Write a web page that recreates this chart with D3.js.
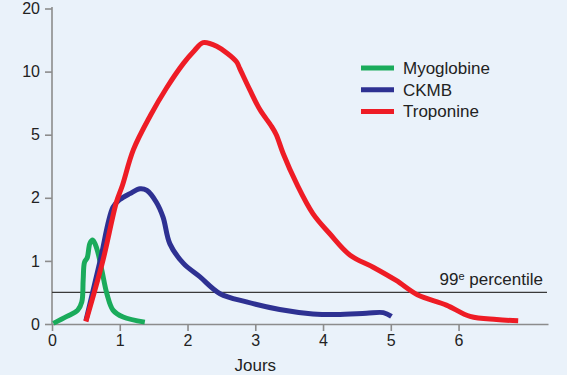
<!DOCTYPE html>
<html>
<head>
<meta charset="utf-8">
<script src="https://cdn.jsdelivr.net/npm/d3@7"></script>
<style>
  body { margin: 0; background: #eaf2fa; }
  svg { display: block; }
  svg text { font-family: "Liberation Sans", Arial, sans-serif; }
</style>
</head>
<body>
<div id="chart"></div>
<script>
// values: [jours, level]
const xTicks = [0, 1, 2, 3, 4, 5, 6];
const yTicks = [0, 1, 2, 5, 10, 20];
const percentile = 0.5;

const myoglobine = [
    [0.02, 0.01], [0.22, 0.12], [0.38, 0.22], [0.44, 0.35], [0.46, 0.7], [0.48, 0.98],
    [0.52, 1.05], [0.56, 1.28], [0.6, 1.33], [0.66, 1.2], [0.73, 0.88], [0.81, 0.48],
    [0.9, 0.22], [1.05, 0.11], [1.37, 0.03]
];
const ckmb = [
    [0.5, 0.05], [0.71, 1.0], [0.9, 1.85], [1.0, 1.97], [1.15, 2.2], [1.3, 2.43],
    [1.4, 2.35], [1.54, 1.93], [1.64, 1.69], [1.74, 1.27], [1.94, 0.96], [2.18, 0.75],
    [2.48, 0.48], [2.87, 0.35], [3.36, 0.23], [3.85, 0.16], [4.2, 0.15], [4.64, 0.17],
    [4.89, 0.18], [5.01, 0.12]
];
const troponine = [
    [0.5, 0.04], [0.75, 1.0], [0.95, 1.93], [1.04, 2.6], [1.2, 4.28], [1.45, 6.5],
    [1.69, 8.7], [1.94, 11.3], [2.1, 13.3], [2.23, 14.6], [2.43, 14.0], [2.72, 11.6],
    [2.77, 10.5], [2.92, 8.55], [3.07, 6.97], [3.24, 5.66], [3.31, 5.0], [3.41, 4.12],
    [3.61, 2.67], [3.85, 1.75], [4.1, 1.43], [4.4, 1.09], [4.74, 0.9], [5.08, 0.69],
    [5.4, 0.46], [5.82, 0.3], [6.17, 0.12], [6.56, 0.07], [6.88, 0.05]
];

const seriesNames = ["Myoglobine", "CKMB", "Troponine"];
const seriesData = [myoglobine, ckmb, troponine];
const colors = ["#1aab5b", "#2e3192", "#ee1c25"];

const width = 567, height = 375;
const svg = d3.select("#chart").append("svg")
    .attr("width", width)
    .attr("height", height);

svg.append("rect").attr("width", width).attr("height", height).attr("fill", "#eaf2fa");

const x = d3.scaleLinear().domain([0, 7.32]).range([52, 548]);
// y axis is not linear: ticks are evenly spaced
const yTop = 8.5, yBottom = 324;
const y = d3.scaleLinear()
    .domain(yTicks)
    .range(yTicks.map((d, i) => yBottom - i * (yBottom - yTop) / (yTicks.length - 1)));

// x axis
const xAxis = svg.append("g")
    .attr("transform", `translate(0, ${yBottom})`)
    .call(d3.axisBottom(x).tickValues(xTicks).tickSize(7).tickPadding(4).tickSizeOuter(0));
// y axis
const yAxis = svg.append("g")
    .attr("transform", `translate(52, 0)`)
    .call(d3.axisLeft(y).tickValues(yTicks).tickSize(7).tickPadding(5).tickSizeOuter(0));

[xAxis, yAxis].forEach(a => {
    a.attr("font-family", null).attr("font-size", null);
    a.select(".domain").attr("stroke", "#8c8c8c").attr("stroke-width", 1.6);
    a.selectAll(".tick line").attr("stroke", "#8c8c8c").attr("stroke-width", 1.6);
    a.selectAll(".tick text").attr("fill", "#222").style("font-size", "16px");
});
yAxis.select(".domain").attr("d", `M0,${yTop - 1.5}V${yBottom + 1}`);

svg.append("text")
    .attr("x", x(3))
    .attr("y", 370.5)
    .attr("text-anchor", "middle")
    .attr("fill", "#222")
    .style("font-size", "17px")
    .text("Jours");

// 99e percentile line
svg.append("line")
    .attr("x1", 52).attr("x2", 547)
    .attr("y1", y(percentile)).attr("y2", y(percentile))
    .attr("stroke", "#3a3a3a")
    .attr("stroke-width", 1.2);

const pct = svg.append("text")
    .attr("x", 543)
    .attr("y", y(percentile) - 7)
    .attr("text-anchor", "end")
    .attr("fill", "#222")
    .style("font-size", "17px");
pct.append("tspan").text("99");
pct.append("tspan").attr("dy", -5).style("font-size", "11px").text("e");
pct.append("tspan").attr("dy", 5).text(" percentile");

// curves
const line = d3.line()
    .x(d => x(d[0]))
    .y(d => y(d[1]))
    .curve(d3.curveCatmullRom.alpha(0.5));

svg.selectAll(".serie")
    .data(seriesData)
    .enter()
    .append("path")
    .attr("class", "serie")
    .attr("d", line)
    .attr("fill", "none")
    .attr("stroke", (d, i) => colors[i])
    .attr("stroke-width", 5)
    .attr("stroke-linejoin", "round");

// legend
const legend = svg.append("g").attr("transform", "translate(361, 68)");
seriesNames.forEach((name, i) => {
    const g = legend.append("g").attr("transform", `translate(0, ${i * 21.7})`);
    g.append("line")
        .attr("x1", 0).attr("x2", 33)
        .attr("stroke", colors[i])
        .attr("stroke-width", 5);
    g.append("text")
        .attr("x", 42)
        .attr("y", 6)
        .attr("fill", "#222")
        .style("font-size", "17px")
        .text(name);
});
</script>
</body>
</html>
